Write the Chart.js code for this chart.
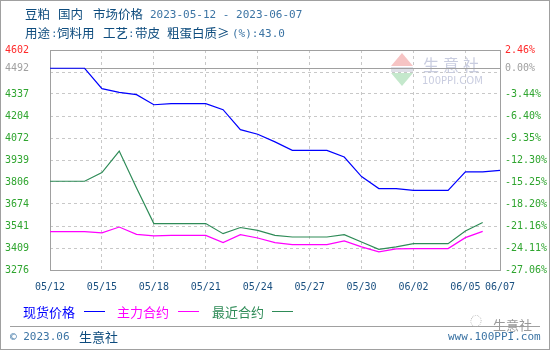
<!DOCTYPE html>
<html>
<head>
<meta charset="utf-8">
<script src="https://cdn.jsdelivr.net/npm/chart.js@4.4.0/dist/chart.umd.min.js"></script>
<style>
  body { margin: 0; background: #fff; }
  #wrap { position: relative; width: 550px; height: 350px; overflow: hidden; font-family: "Noto Sans CJK SC", sans-serif; }
  #c { position: absolute; left: 0; top: 0; }
  .frame { position: absolute; left: 0; top: 0; width: 550px; height: 350px; box-sizing: border-box; border: 1px solid #a0a0a0; }
  .t { position: absolute; white-space: nowrap; line-height: 1; }
  .cn { font-family: "Noto Sans CJK SC", sans-serif; font-size: 12.5px; color: #0e4c7e; }
  .mono { font-family: "DejaVu Sans Mono", monospace; font-size: 11px; color: #3c74a4; }
  .sep { position: absolute; left: 10px; top: 326px; width: 530px; height: 1px; background: #a0a0a0; }
  .lg { position: absolute; top: 311px; height: 1px; width: 21px; }
</style>
</head>
<body>
<div id="wrap">
  <canvas id="c" width="550" height="350"></canvas>
  <div class="frame"></div>

  <div class="t cn" style="left:25px;top:8px">豆粕</div>
  <div class="t cn" style="left:58px;top:8px">国内</div>
  <div class="t cn" style="left:93px;top:8px">市场价格</div>
  <div class="t mono" style="left:150px;top:9px">2023-05-12 - 2023-06-07</div>

  <div class="t cn" style="left:25px;top:27px">用途</div>
  <div class="t mono" style="left:51px;top:28px">:</div>
  <div class="t cn" style="left:57px;top:27px">饲料用</div>
  <div class="t cn" style="left:103px;top:27px">工艺</div>
  <div class="t mono" style="left:128px;top:28px">:</div>
  <div class="t cn" style="left:135px;top:27px">带皮</div>
  <div class="t cn" style="left:167px;top:27px">粗蛋白质≥</div>
  <div class="t mono" style="left:232px;top:28px">(%):43.0</div>

  <div class="t" style="left:23px;top:305px;font-size:13px;color:#0000ff">现货价格</div>
  <div class="lg" style="left:84px;background:#0000ff"></div>
  <div class="t" style="left:117px;top:305px;font-size:13px;color:#ff00ff">主力合约</div>
  <div class="lg" style="left:178px;background:#ff00ff"></div>
  <div class="t" style="left:212px;top:305px;font-size:13px;color:#2e8b57">最近合约</div>
  <div class="lg" style="left:272px;background:#2e8b57"></div>

  <div class="sep"></div>
  <div class="t" style="left:470px;top:315px;font-size:12px;color:#b0b0b0">◌</div>
  <div class="t" style="left:493px;top:318px;font-size:13px;color:#9a9a9a">生意社</div>

  <div class="t mono" style="left:10px;top:331px">© 2023.06</div>
  <div class="t cn" style="left:79px;top:330px;font-size:13px">生意社</div>
  <div class="t mono" style="left:448px;top:331px">www.100PPI.com</div>
</div>

<script>
const dates = ['05/12', '05/13', '05/14', '05/15', '05/16', '05/17', '05/18', '05/19', '05/20',
  '05/21', '05/22', '05/23', '05/24', '05/25', '05/26', '05/27', '05/28', '05/29', '05/30',
  '05/31', '06/01', '06/02', '06/03', '06/04', '06/05', '06/06', '06/07'];
const xTickDates = ['05/12', '05/15', '05/18', '05/21', '05/24', '05/27', '05/30', '06/02', '06/05', '06/07'];

// 现货价格
const spotPrice = [4492, 4492, 4492, 4369, 4347, 4333, 4272, 4279, 4279, 4279, 4242, 4122, 4094, 4048,
  3997, 3997, 3997, 3957, 3839, 3767, 3767, 3756, 3756, 3756, 3867, 3867, 3877];
// 主力合约
const mainContract = [3507, 3507, 3507, 3500, 3535, 3491, 3482, 3485, 3485, 3485, 3441, 3489, 3469, 3441,
  3429, 3429, 3429, 3451, 3415, 3385, 3403, 3405, 3405, 3405, 3471, 3509, null];
// 最近合约
const nearContract = [3811, 3811, 3811, 3863, 3993, 3770, 3556, 3556, 3556, 3556, 3495, 3532, 3515, 3485,
  3475, 3475, 3475, 3489, 3445, 3401, 3415, 3435, 3435, 3435, 3511, 3562, null];

const basePrice = 4492;
const yTickValues = [3276, 3408.6, 3541.2, 3673.8, 3806.4, 3939, 4071.6, 4204.2, 4336.8, 4469.4, 4492, 4602];
const yTickLabels = ['3276', '3409', '3541', '3674', '3806', '3939', '4072', '4204', '4337', '', '4492', '4602'];
const pctTickLabels = ['-27.06%', '-24.11%', '-21.16%', '-18.20%', '-15.25%', '-12.30%', '-9.35%', '-6.40%', '-3.44%', '', '0.00%', '2.46%'];

const gridColor = '#c8c8c8';
const tickFont = { family: 'DejaVu Sans Mono', size: 10 };

function tickColor(ctx) {
  const v = ctx.tick && ctx.tick.value;
  if (v === 4602) return '#ff2a2a';
  if (v === basePrice) return '#a0a0a0';
  return '#2fa52f';
}
function yGrid(ctx) {
  const v = ctx.tick && ctx.tick.value;
  if (v === 4602 || v === 3276 || v === basePrice) return 'rgba(0,0,0,0)';
  return gridColor;
}
function setTicks(axis) {
  axis.ticks = yTickValues.map(v => ({ value: v }));
}

const framePlugin = {
  id: 'frame',
  beforeDatasetsDraw(chart) {
    const { ctx, chartArea: a, scales: { y } } = chart;
    ctx.save();
    // watermark
    ctx.fillStyle = '#f6c4c4';
    ctx.beginPath(); ctx.moveTo(402, 53); ctx.lineTo(413, 66); ctx.lineTo(391, 66); ctx.closePath(); ctx.fill();
    ctx.fillStyle = '#dfe0e8';
    ctx.fillRect(391, 67, 22, 5);
    ctx.fillStyle = '#c4e8cc';
    ctx.beginPath(); ctx.moveTo(391, 73); ctx.lineTo(413, 73); ctx.lineTo(402, 86); ctx.closePath(); ctx.fill();
    ctx.fillStyle = '#c9cde0';
    ctx.font = '16px "Noto Sans CJK SC"';
    ctx.textBaseline = 'middle';
    ['生', '意', '社'].forEach((ch, i) => ctx.fillText(ch, 423 + i * 20, 65));
    ctx.font = '10px "DejaVu Sans"';
    ctx.fillText('100PPI.COM', 422, 81);

    ctx.strokeStyle = '#a0a0a0';
    ctx.lineWidth = 1;
    const yb = Math.round(y.getPixelForValue(basePrice)) + 0.5;
    ctx.beginPath(); ctx.moveTo(a.left, yb); ctx.lineTo(a.right, yb); ctx.stroke();
    ctx.strokeRect(Math.round(a.left) + 0.5, Math.round(a.top) + 0.5, Math.round(a.width), Math.round(a.height));
    ctx.restore();
  }
};

new Chart(document.getElementById('c'), {
  type: 'line',
  data: {
    labels: dates,
    datasets: [
      { label: '现货价格', data: spotPrice, borderColor: '#0000ff' },
      { label: '主力合约', data: mainContract, borderColor: '#ff00ff' },
      { label: '最近合约', data: nearContract, borderColor: '#2e8b57' }
    ]
  },
  options: {
    responsive: false,
    animation: false,
    events: [],
    elements: {
      line: { borderWidth: 1.2, tension: 0, fill: false },
      point: { radius: 0 }
    },
    layout: { padding: { left: 5, right: 0, top: 50, bottom: 50 } },
    plugins: { legend: { display: false }, tooltip: { enabled: false } },
    scales: {
      x: {
        type: 'category',
        offset: false,
        grid: {
          drawTicks: false,
          color: ctx => {
            const d = dates[ctx.index];
            if (ctx.index === 0 || ctx.index === dates.length - 1) return 'rgba(0,0,0,0)';
            return xTickDates.includes(d) ? gridColor : 'rgba(0,0,0,0)';
          }
        },
        border: { display: false, dash: [3, 3] },
        ticks: {
          autoSkip: false, maxRotation: 0, minRotation: 0, padding: 11,
          color: '#1a5080', font: tickFont,
          callback: (v, i) => xTickDates.includes(dates[i]) ? dates[i] : ''
        },
        afterFit: axis => { axis.height = 30; }
      },
      y: {
        position: 'left',
        min: 3276, max: 4602,
        afterBuildTicks: setTicks,
        grid: { drawTicks: false, color: yGrid },
        border: { display: false, dash: [3, 3] },
        ticks: {
          crossAlign: 'far', padding: 5, color: tickColor, font: tickFont,
          callback: (v, i) => yTickLabels[i]
        },
        afterFit: axis => { axis.width = 45; }
      },
      y2: {
        position: 'right',
        min: 3276, max: 4602,
        afterBuildTicks: setTicks,
        grid: { display: false, drawTicks: false },
        border: { display: false },
        ticks: {
          padding: 5, color: tickColor, font: tickFont,
          callback: (v, i) => pctTickLabels[i]
        },
        afterFit: axis => { axis.width = 50; }
      }
    }
  },
  plugins: [framePlugin]
});
</script>
</body>
</html>
